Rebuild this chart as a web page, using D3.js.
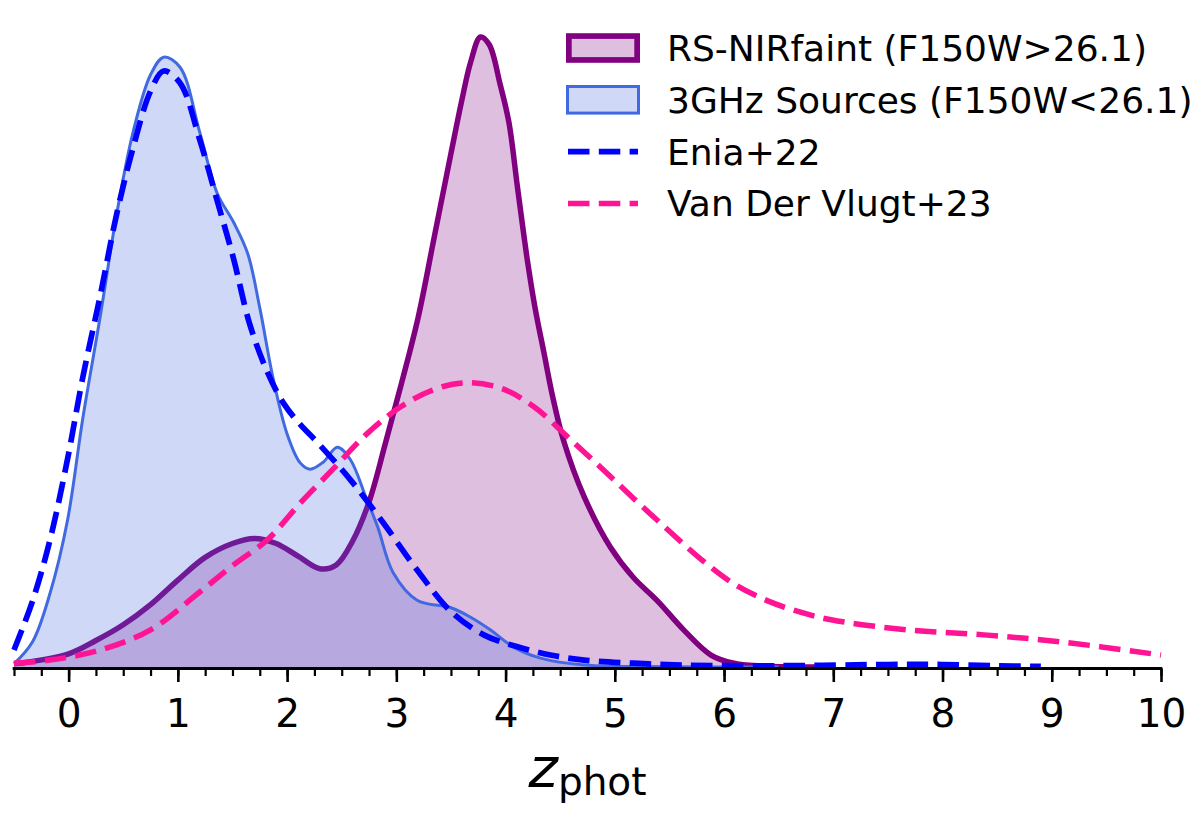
<!DOCTYPE html>
<html>
<head>
<meta charset="utf-8">
<script src="https://cdn.jsdelivr.net/npm/d3@7"></script>
<style>
  html, body { margin: 0; padding: 0; background: #fff; }
  svg { display: block; font-family: "DejaVu Sans", sans-serif; }
</style>
</head>
<body>
<div id="chart"></div>
<script>
// photometric redshift distributions (normalised density)
const rsZ = [-0.5, 0, 0.25, 0.5, 0.75, 1.0, 1.25, 1.5, 1.7, 1.9, 2.1, 2.3, 2.45, 2.6, 2.75, 2.9,
  3.05, 3.2, 3.35, 3.5, 3.6, 3.68, 3.77, 3.85, 3.95, 4.03, 4.11, 4.2, 4.27, 4.35, 4.43, 4.53,
  4.72, 4.96, 5.17, 5.39, 5.63, 5.88, 6.09, 6.4, 7.0];
const rsDensity = [0.005, 0.021, 0.042, 0.067, 0.099, 0.138, 0.174, 0.196, 0.204, 0.196, 0.176,
  0.156, 0.162, 0.200, 0.262, 0.355, 0.452, 0.555, 0.685, 0.815, 0.900, 0.960, 1.0, 0.988, 0.925,
  0.865, 0.760, 0.645, 0.570, 0.500, 0.430, 0.360, 0.270, 0.190, 0.142, 0.105, 0.059, 0.019,
  0.006, 0.001, 0.0];

const ghzZ = [-0.5, -0.33, -0.17, -0.01, 0.13, 0.29, 0.44, 0.59, 0.75, 0.87, 1.02, 1.2, 1.36,
  1.51, 1.64, 1.75, 1.87, 2.0, 2.12, 2.21, 2.33, 2.46, 2.58, 2.72, 2.83, 2.97, 3.19, 3.5, 3.68,
  3.86, 4.07, 4.32, 4.72, 5.5, 6.5];
const ghzDensity = [0.005, 0.040, 0.117, 0.233, 0.395, 0.557, 0.719, 0.849, 0.940, 0.968, 0.952,
  0.849, 0.752, 0.706, 0.656, 0.570, 0.460, 0.370, 0.324, 0.314, 0.325, 0.349, 0.329, 0.270,
  0.222, 0.150, 0.106, 0.094, 0.079, 0.059, 0.032, 0.014, 0.003, 0.0005, 0.0];

const eniaZ = [-0.5, -0.33, -0.17, -0.01, 0.13, 0.29, 0.44, 0.59, 0.75, 0.87, 1.02, 1.2, 1.36,
  1.51, 1.66, 1.82, 1.97, 2.12, 2.28, 2.58, 2.88, 3.19, 3.5, 3.8, 4.11, 4.41, 4.72, 5.17, 5.63,
  6.5, 7.5, 8.0, 8.5, 8.9];
const eniaDensity = [0.027, 0.105, 0.202, 0.330, 0.460, 0.590, 0.719, 0.824, 0.914, 0.946, 0.927,
  0.837, 0.740, 0.648, 0.543, 0.468, 0.418, 0.385, 0.356, 0.297, 0.229, 0.154, 0.088, 0.051,
  0.032, 0.019, 0.011, 0.006, 0.003, 0.002, 0.004, 0.004, 0.002, 0.001];

const vdvZ = [-0.5, -0.17, 0.29, 0.75, 1.2, 1.51, 1.82, 2.12, 2.42, 2.73, 3.04, 3.34, 3.61, 3.95,
  4.26, 4.57, 4.87, 5.17, 5.49, 5.79, 6.09, 6.4, 6.7, 6.98, 7.67, 8.38, 9.08, 10.0];
const vdvDensity = [0.006, 0.011, 0.027, 0.059, 0.119, 0.162, 0.202, 0.260, 0.314, 0.370, 0.413,
  0.440, 0.451, 0.443, 0.413, 0.365, 0.317, 0.268, 0.217, 0.171, 0.132, 0.105, 0.087, 0.075,
  0.059, 0.051, 0.040, 0.019];

const xTicks = [0, 1, 2, 3, 4, 5, 6, 7, 8, 9, 10];
const legendLabels = ['RS-NIRfaint (F150W>26.1)', '3GHz Sources (F150W<26.1)', 'Enia+22', 'Van Der Vlugt+23'];

const width = 1200;
const height = 817;
const margin = { top: 37, right: 39, bottom: 150, left: 14 };
const dash = '21.5,9.3';

const svg = d3.select('#chart')
  .append('svg')
  .attr('width', width)
  .attr('height', height);

const x = d3.scaleLinear().domain([-0.5, 10]).range([margin.left, width - margin.right]);
const y = d3.scaleLinear().domain([0, 1]).range([height - margin.bottom, margin.top]);

const zip = (zs, vs) => zs.map((z, i) => ({ z, v: vs[i] }));
const curve = d3.curveCatmullRom.alpha(0.5);

const area = d3.area()
  .x(d => x(d.z))
  .y0(y(0))
  .y1(d => Math.min(y(d.v), y(0)))
  .curve(curve);

const line = d3.line()
  .x(d => x(d.z))
  .y(d => y(d.v))
  .curve(curve);

const plot = svg.append('g');

function drawFilled(zs, vs, color, sw) {
  const data = zip(zs, vs);
  plot.append('path')
    .datum(data)
    .attr('d', area)
    .attr('fill', color)
    .attr('fill-opacity', 0.25);
  plot.append('path')
    .datum(data)
    .attr('d', line)
    .attr('fill', 'none')
    .attr('stroke', color)
    .attr('stroke-width', sw)
    .attr('stroke-linejoin', 'round');
}

function drawDashed(zs, vs, color, sw) {
  plot.append('path')
    .datum(zip(zs, vs))
    .attr('d', line)
    .attr('fill', 'none')
    .attr('stroke', color)
    .attr('stroke-width', sw)
    .attr('stroke-dasharray', dash);
}

// filled distributions, then literature curves on top
drawFilled(rsZ, rsDensity, 'purple', 5.5);
drawFilled(ghzZ, ghzDensity, 'royalblue', 3);
drawDashed(eniaZ, eniaDensity, 'blue', 5.7);
drawDashed(vdvZ, vdvDensity, 'deeppink', 5.5);

// x axis, bottom spine only
const axisY = y(0) + 1.5;
const minor = svg.append('g').attr('transform', `translate(0,${axisY})`);
minor.call(d3.axisBottom(x).tickValues(d3.range(-0.5, 10.001, 0.25)).tickSize(7.5).tickFormat(''))
  .call(g => g.select('.domain').remove())
  .call(g => g.selectAll('.tick line').attr('stroke', '#000').attr('stroke-width', 2.2));

const major = svg.append('g').attr('transform', `translate(0,${axisY})`);
major.call(d3.axisBottom(x).tickValues(xTicks).tickSize(13.5).tickPadding(17).tickFormat(d3.format('d')))
  .call(g => g.select('.domain').remove())
  .call(g => g.selectAll('.tick line').attr('stroke', '#000').attr('stroke-width', 2.6))
  .call(g => g.selectAll('.tick text')
    .attr('fill', '#000')
    .style('font-family', '"DejaVu Sans", sans-serif')
    .style('font-size', '39px'));

svg.append('line')
  .attr('x1', x(-0.5) - 1.3)
  .attr('x2', x(10) + 1.3)
  .attr('y1', axisY)
  .attr('y2', axisY)
  .attr('stroke', '#000')
  .attr('stroke-width', 3);

// axis label z_phot
const xlabel = svg.append('text')
  .attr('x', (x(-0.5) + x(10)) / 2)
  .attr('y', 787)
  .attr('text-anchor', 'middle')
  .attr('fill', '#000');
xlabel.append('tspan')
  .style('font-style', 'italic')
  .style('font-size', '56px')
  .text('z');
xlabel.append('tspan')
  .attr('dy', 8)
  .style('font-size', '39px')
  .text('phot');

// legend
const legend = svg.append('g').attr('transform', 'translate(566,48)');
const rowGap = 51.8;
const handles = [
  { kind: 'patch', color: 'purple', sw: 5.7 },
  { kind: 'patch', color: 'royalblue', sw: 3 },
  { kind: 'line', color: 'blue', sw: 5.7 },
  { kind: 'line', color: 'deeppink', sw: 5.5 }
];

legendLabels.forEach((label, i) => {
  const row = legend.append('g').attr('transform', `translate(0,${i * rowGap})`);
  const h = handles[i];
  if (h.kind === 'patch') {
    row.append('rect')
      .attr('x', h.sw / 2)
      .attr('y', -14.8 + h.sw / 2)
      .attr('width', 74 - h.sw)
      .attr('height', 29.6 - h.sw)
      .attr('fill', h.color)
      .attr('fill-opacity', 0.25)
      .attr('stroke', h.color)
      .attr('stroke-width', h.sw);
  } else {
    row.append('line')
      .attr('x1', 2)
      .attr('x2', 72)
      .attr('stroke', h.color)
      .attr('stroke-width', h.sw)
      .attr('stroke-dasharray', dash);
  }
  row.append('text')
    .attr('x', 101)
    .attr('dy', '0.36em')
    .style('font-size', '36px')
    .attr('fill', '#000')
    .text(label);
});
</script>
</body>
</html>
